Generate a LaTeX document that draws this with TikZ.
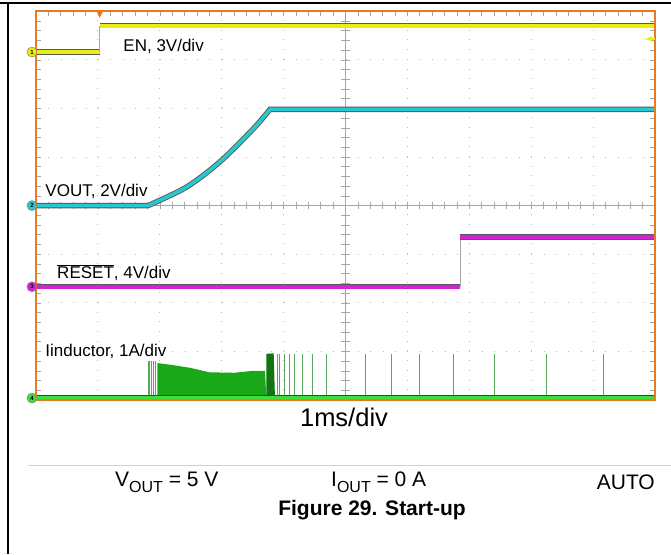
\documentclass[tikz,border=0pt]{standalone}
\usepackage{fontspec}
\setmainfont{Liberation Sans}
\usepackage{tikz}
\usetikzlibrary{calc}
\definecolor{frameor}{RGB}{232,122,36}
\definecolor{chone}{RGB}{236,236,20}
\definecolor{chtwo}{RGB}{40,200,208}
\definecolor{chthree}{RGB}{214,34,214}
\definecolor{chfour}{RGB}{60,222,60}
\definecolor{burst}{RGB}{24,168,24}
\tikzstyle{hgrid}=[gray!55, line width=0.9pt, dash pattern=on 1pt off 11.38pt]
\tikzstyle{vgrid}=[gray!55, line width=0.9pt, dash pattern=on 1pt off 8.72pt]
\tikzstyle{tick}=[gray!70, line width=0.6pt]
\tikzstyle{trace}=[line width=3.6pt, line join=round, preaction={draw=black!65, line width=5.4pt}]
\tikzstyle{edge}=[gray!70, line width=0.8pt]
\tikzstyle{spike}=[green!30!gray, line width=0.9pt]
\tikzstyle{chmark}=[circle, draw=black!50, line width=0.5pt, minimum size=10pt, inner sep=0pt, font=\fontsize{6}{6}\selectfont\bfseries]
\tikzstyle{lbl}=[anchor=west, inner sep=0pt, font=\fontsize{17}{20}\selectfont]
\tikzstyle{cond}=[inner sep=0pt, font=\fontsize{21}{24}\selectfont]
\newcommand{\sbs}[1]{\raisebox{-0.28em}{\fontsize{16}{16}\selectfont #1}}

\begin{document}
\begin{tikzpicture}[x=1pt, y=1pt]
\useasboundingbox (0,0) rectangle (671,-554);
\draw[line width=1.5pt] (0,-3) -- (671,-3);
\draw[line width=1.5pt] (8,-3) -- (8,-554);

\begin{scope}[shift={(36pt,-400pt)}, x=61.9pt, y=48.6pt]
% grid and graticule
\foreach \i in {1,...,9} \draw[vgrid] (\i,0) -- (\i,8);
\foreach \j in {1,...,7} \draw[hgrid] (0,\j) -- (10,\j);
\draw[tick] (0,4) -- (10,4);
\draw[tick] (5,0) -- (5,8);
\foreach \k in {1,...,49} {
	\draw[tick] (\k/5,3.92) -- (\k/5,4.08);
	\draw[tick] (\k/5,8) -- (\k/5,7.9);
	\draw[tick] (\k/5,0) -- (\k/5,0.1);
}
\foreach \k in {1,...,39} {
	\draw[tick] (4.935,\k/5) -- (5.065,\k/5);
	\draw[tick] (0,\k/5) -- (0.08,\k/5);
	\draw[tick] (10,\k/5) -- (9.92,\k/5);
}

% inductor current
\foreach \s in {1.81,1.84,1.87,1.90,1.93} \draw[spike] (\s,0.06) -- (\s,0.8);
\fill[burst] (1.96,0.06) -- (1.96,0.76) -- (2.2,0.72) -- (2.5,0.66) -- (2.8,0.57)
	-- (3.2,0.56) -- (3.5,0.6) -- (3.7,0.6) -- (3.72,0.06) -- cycle;
\fill[burst!70!black] (3.72,0.06) -- (3.72,0.95) -- (3.84,0.96) -- (3.86,0.06) -- cycle;
\foreach \s in {3.90,3.94,4.01,4.09,4.18,4.30,4.47,4.70,5.32,5.75,6.20,6.74,7.40,8.24,9.16}
	\draw[spike] (\s,0.06) -- (\s,0.95);
\draw[chfour, line width=4.5pt] (0,0.05) -- (10,0.05);
\draw[burst!60!black, line width=0.5pt] (0,0.1) -- (10,0.1);

% RESET
\draw[trace, chthree] (0,2.33) -- (6.85,2.33);
\draw[edge] (6.85,2.33) -- (6.85,3.35);
\draw[trace, chthree] (6.85,3.35) -- (10,3.35);

% VOUT
\draw[trace, chtwo] (0,4) -- plot[smooth] coordinates {(1.81,4) (2.43,4.38) (2.97,4.9) (3.51,5.58) (3.78,5.98)} -- (10,5.98);

% EN
\draw[trace, chone] (0,7.16) -- (1.03,7.16);
\draw[edge] (1.03,7.16) -- (1.03,7.70);
\draw[trace, chone] (1.03,7.70) -- (10,7.70);

\draw[frameor, line width=2pt] (0,0) rectangle (10,8);
\fill[frameor] (0.97,8.02) -- (1.09,8.02) -- (1.03,7.86) -- cycle;
\draw[-latex, chone, line width=1.6pt] (10,7.43) -- (9.83,7.43);

\node[chmark, fill=chone] (m1) at (-0.065,7.16) {1};
\node[chmark, fill=chtwo] (m2) at (-0.065,4) {2};
\node[chmark, fill=chthree] (m3) at (-0.065,2.33) {3};
\node[chmark, fill=chfour] (m4) at (-0.065,0.04) {4};

\node[lbl] (en) at (1.41,7.27) {EN, 3V/div};
\node[lbl] (vout) at (0.15,4.3) {VOUT, 2V/div};
\node[lbl] (reset) at (0.34,2.62) {$\overline{\mbox{RESET}}$, 4V/div};
\node[lbl] (il) at (0.15,1.0) {Iinductor, 1A/div};
\end{scope}

\node[inner sep=0pt, font=\fontsize{25.5}{30}\selectfont] (tdiv) at (344,-417) {1ms/div};
\draw[gray!35, line width=0.8pt] (28,-465) -- (671,-465);
\node[cond, anchor=west] (vcond) at (115,-482) {V\sbs{OUT} = 5 V};
\node[cond, anchor=west] (icond) at (331,-482) {I\sbs{OUT} = 0 A};
\node[cond, anchor=east] (mode) at (655,-482) {AUTO};
\node[inner sep=0pt, font=\fontsize{21}{25}\selectfont\bfseries] (caption) at (372,-510) {Figure 29. Start-up};
\end{tikzpicture}
\end{document}
